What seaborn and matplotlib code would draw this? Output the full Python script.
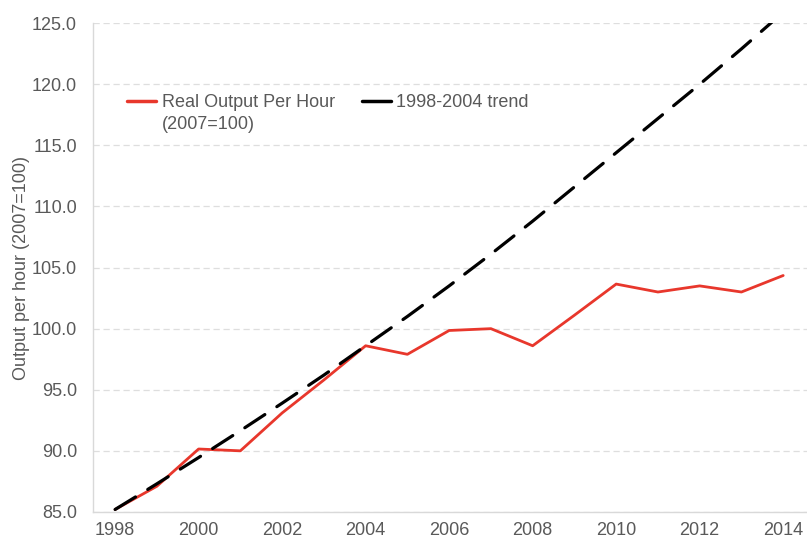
import matplotlib
matplotlib.use("Agg")
import matplotlib.pyplot as plt
import seaborn as sns
from matplotlib.lines import Line2D

years = list(range(1998, 2015))
output_per_hour = [85.2, 87.1, 90.15, 90.0, 93.1, 95.8, 98.6, 97.9, 99.85, 100.0,
                   98.6, 101.1, 103.65, 103.0, 103.5, 103.0, 104.35]
trend_1998_2004 = [85.2, 87.3, 89.45, 91.65, 93.9, 96.2, 98.6, 101.0, 103.5, 106.1,
                   108.8, 111.6, 114.4, 117.2, 120.0, 122.9, 125.9]
y_ticks = [85, 90, 95, 100, 105, 110, 115, 120, 125]
x_ticks = list(range(1998, 2015, 2))

sns.set_theme(style="white")
plt.rcParams["font.family"] = ["Liberation Sans", "DejaVu Sans"]
grey = "#595959"

fig = plt.figure(figsize=(8.07, 5.40), dpi=100)
ax = fig.add_axes([0.1152, 0.052, 0.8848, 0.905])

sns.lineplot(x=years, y=output_per_hour, ax=ax, color="#e8372c", linewidth=2.0)
sns.lineplot(x=years, y=trend_1998_2004, ax=ax, color="black", linewidth=2.3,
             linestyle=(0, (7.5, 4.5)), dash_capstyle="round")

ax.set_xlim(1997.47, 2014.57)
ax.set_ylim(85, 125)
ax.set_yticks(y_ticks)
ax.set_yticklabels([f"{v:.1f}" for v in y_ticks])
ax.set_xticks(x_ticks)
ax.tick_params(axis="both", length=0, labelsize=13, colors=grey)
ax.tick_params(axis="y", pad=11.5)
ax.tick_params(axis="x", pad=7.5)
ax.yaxis.grid(True, color="#dedede", linestyle=(0, (5, 3)), linewidth=0.9)
ax.xaxis.grid(False)
for side in ["top", "right"]:
    ax.spines[side].set_visible(False)
for side in ["left", "bottom"]:
    ax.spines[side].set_color("#d9d9d9")
    ax.spines[side].set_linewidth(1.0)
ax.set_ylabel("Output per hour (2007=100)", fontsize=13, color=grey, labelpad=1.5)

handles = [Line2D([], [], color="#e8372c", lw=2.5),
           Line2D([], [], color="none"),
           Line2D([], [], color="black", lw=2.5)]
labels = ["Real Output Per Hour", "(2007=100)", "1998-2004 trend"]
leg = ax.legend(handles, labels, ncol=2, frameon=False, fontsize=13,
                loc="upper left", bbox_to_anchor=(0.028, 0.885),
                handlelength=1.6, handletextpad=0.3, labelspacing=0.3,
                columnspacing=1.5, borderpad=0.3)
for t in leg.get_texts():
    t.set_color(grey)

fig.savefig("out.png", dpi=100)
